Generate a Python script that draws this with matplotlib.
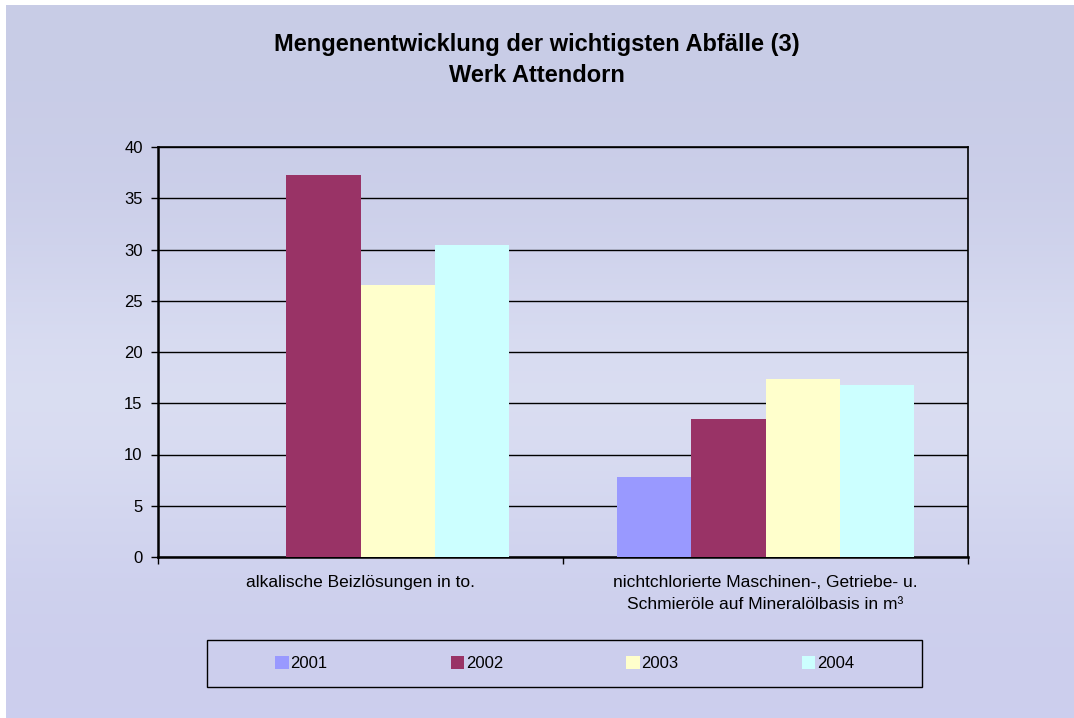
import numpy as np
import matplotlib
matplotlib.use("Agg")
import matplotlib.pyplot as plt
from matplotlib.patches import Patch, Rectangle

plt.rcParams["font.family"] = ["Liberation Sans", "DejaVu Sans"]

categories = ["alkalische Beizlösungen in to.",
              "nichtchlorierte Maschinen-, Getriebe- u.\nSchmieröle auf Mineralölbasis in m³"]
years = ["2001", "2002", "2003", "2004"]
v2001 = [0.0, 7.8]
v2002 = [37.3, 13.5]
v2003 = [26.5, 17.4]
v2004 = [30.4, 16.8]
colors = ["#9999FF", "#993366", "#FFFFCC", "#CCFFFF"]

W, H = 1074, 718
fig = plt.figure(figsize=(W / 100, H / 100), dpi=100)
fig.patch.set_facecolor("white")

# background gradient (light lavender)
bg = fig.add_axes([6 / W, 0, 1 - 6 / W, 1 - 5 / H], zorder=-10)
t = np.linspace(0, 1, 300)[:, None]
top = np.array([200, 204, 230]) / 255
mid = np.array([224, 228, 245]) / 255
bot = np.array([204, 206, 238]) / 255
w_mid = np.exp(-((t - 0.55) / 0.22) ** 2) * 0.7
grad = top * (1 - t) + bot * t
grad = grad * (1 - w_mid) + mid * w_mid
grad = np.repeat(grad[:, None, :], 10, axis=1)
bg.imshow(grad, aspect="auto", extent=[0, 1, 0, 1])
bg.axis("off")

ax = fig.add_axes([158 / W, 1 - 557 / H, 810 / W, 410 / H])
ax.set_facecolor("none")

x = np.arange(len(categories))
bw = 0.1835
series = [v2001, v2002, v2003, v2004]
for i, (vals, c) in enumerate(zip(series, colors)):
    ax.bar(x + (i - 1.5) * bw, vals, width=bw, color=c, zorder=3, linewidth=0)

ax.set_xlim(-0.5, 1.5)
ax.set_ylim(0, 40)
ax.set_yticks(np.arange(0, 41, 5))
ax.tick_params(axis="y", direction="out", length=5, width=1, labelsize=12, pad=6)
ax.grid(True, axis="y", color="black", linewidth=1, zorder=1)

ax.set_xticks([-0.5, 0.5, 1.5])
ax.set_xticklabels([])
ax.tick_params(axis="x", which="major", direction="out", length=5, width=1)
ax.set_xticks(x, minor=True)
ax.set_xticklabels(categories, minor=True, fontsize=12.5, linespacing=1.6)
ax.tick_params(axis="x", which="minor", length=0, pad=13)

for s in ax.spines.values():
    s.set_color("black")
    s.set_linewidth(1.2)
ax.spines["left"].set_linewidth(1.8)
ax.spines["bottom"].set_linewidth(1.8)

fig.text(0.5, 1 - 44 / H, "Mengenentwicklung der wichtigsten Abfälle (3)",
         ha="center", va="center", fontsize=17, fontweight="bold")
fig.text(0.5, 1 - 75 / H, "Werk Attendorn",
         ha="center", va="center", fontsize=17, fontweight="bold")

# legend box
lx0, lx1, ly0, ly1 = 207, 922, 640, 687
fig.patches.append(Rectangle((lx0 / W, 1 - ly1 / H), (lx1 - lx0) / W, (ly1 - ly0) / H,
                             transform=fig.transFigure, fill=False,
                             edgecolor="black", linewidth=1))
handles = [Patch(facecolor=c, edgecolor="none") for c in colors]
fig.legend(handles, years, ncol=4, loc="center",
           bbox_to_anchor=((lx0 + lx1) / 2 / W, 1 - (ly0 + ly1) / 2 / H),
           fontsize=12, frameon=False,
           handlelength=0.8, handleheight=0.8, handletextpad=0.1,
           columnspacing=7.4, borderaxespad=0)

fig.savefig("out.png", dpi=100)
